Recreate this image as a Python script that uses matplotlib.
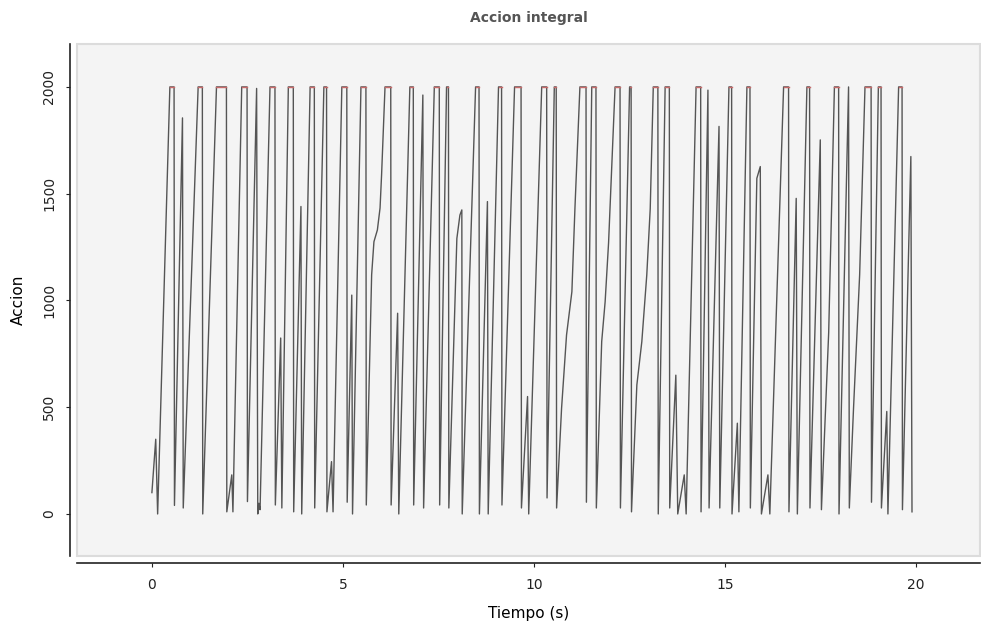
import numpy as np
import matplotlib
matplotlib.use("Agg")
import matplotlib.pyplot as plt

# Time (s) and integral action values
tiempo = [
    0.00, 0.10, 0.15, 0.47, 0.58, 0.59, 0.80, 0.82, 1.21, 1.32,
    1.33, 1.69, 1.95, 1.96, 2.09, 2.12, 2.35, 2.49, 2.50, 2.74,
    2.77, 2.80, 2.83, 3.09, 3.22, 3.23, 3.37, 3.40, 3.57, 3.70,
    3.71, 3.90, 3.92, 4.14, 4.25, 4.26, 4.50, 4.57, 4.58, 4.70,
    4.74, 4.97, 5.10, 5.11, 5.23, 5.25, 5.47, 5.60, 5.61, 5.75,
    5.81, 5.90, 5.97, 6.01, 6.10, 6.25, 6.26, 6.43, 6.46, 6.75,
    6.84, 6.85, 7.09, 7.11, 7.39, 7.52, 7.53, 7.71, 7.76, 7.77,
    7.98, 8.06, 8.11, 8.12, 8.47, 8.56, 8.57, 8.78, 8.80, 9.07,
    9.15, 9.16, 9.49, 9.66, 9.67, 9.83, 9.86, 10.20, 10.33, 10.34,
    10.53, 10.58, 10.59, 10.72, 10.85, 10.99, 11.07, 11.20, 11.36, 11.37,
    11.51, 11.62, 11.63, 11.77, 11.86, 11.95, 12.12, 12.25, 12.26, 12.50,
    12.54, 12.55, 12.69, 12.82, 12.95, 13.04, 13.12, 13.24, 13.25, 13.43,
    13.54, 13.55, 13.71, 13.76, 13.93, 13.98, 14.24, 14.36, 14.37, 14.55,
    14.58, 14.84, 14.86, 15.10, 15.17, 15.18, 15.32, 15.36, 15.57, 15.65,
    15.66, 15.83, 15.92, 15.95, 16.12, 16.17, 16.53, 16.66, 16.67, 16.86,
    16.89, 17.14, 17.21, 17.22, 17.49, 17.52, 17.71, 17.86, 17.97, 17.98,
    18.23, 18.25, 18.36, 18.52, 18.66, 18.82, 18.83, 19.01, 19.08, 19.09,
    19.23, 19.26, 19.54, 19.63, 19.64, 19.86, 19.89,
]
accion = [
    100, 350, 0, 2000, 2000, 40, 1855, 28, 2000, 2000,
    0, 2000, 2000, 10, 183, 10, 2000, 2000, 58, 1993,
    0, 50, 20, 2000, 2000, 42, 824, 28, 2000, 2000,
    10, 1440, 0, 2000, 2000, 28, 2000, 2000, 10, 245,
    10, 2000, 2000, 55, 1025, 0, 2000, 2000, 42, 1120,
    1275, 1330, 1433, 1588, 2000, 2000, 42, 940, 0, 2000,
    2000, 42, 1962, 28, 2000, 2000, 42, 2000, 2000, 28,
    1290, 1400, 1424, 0, 2000, 2000, 0, 1463, 0, 2000,
    2000, 42, 2000, 2000, 28, 550, 0, 2000, 2000, 75,
    2000, 2000, 28, 495, 838, 1041, 1432, 2000, 2000, 55,
    2000, 2000, 28, 807, 994, 1270, 2000, 2000, 28, 2000,
    2000, 10, 604, 807, 1120, 1430, 2000, 2000, 0, 2000,
    2000, 28, 650, 0, 183, 0, 2000, 2000, 10, 1985,
    28, 1815, 28, 2000, 2000, 0, 425, 10, 2000, 2000,
    28, 1572, 1627, 0, 183, 0, 2000, 2000, 10, 1478,
    0, 2000, 2000, 28, 1752, 20, 850, 2000, 2000, 0,
    2000, 28, 495, 1120, 2000, 2000, 55, 2000, 2000, 28,
    480, 0, 2000, 2000, 20, 1674, 10,
]
limite = 2000

x_ticks = [0, 5, 10, 15, 20]
y_ticks = [0, 500, 1000, 1500, 2000]

t = np.array(tiempo, dtype=float)
v = np.array(accion, dtype=float)
v_sat = np.where(v >= limite, v, np.nan)

fig = plt.figure(figsize=(9.81, 6.27), dpi=100)
ax = fig.add_axes([0.0785, 0.1132, 0.9205, 0.8166])
ax.set_facecolor("#f4f4f4")
ax.patch.set_edgecolor("#dcdcdc")
ax.patch.set_linewidth(1.5)

ax.plot(t, v, color="#555555", lw=1.0, zorder=3)
ax.plot(t, v_sat, color="#c96a6a", lw=1.0, zorder=4)

ax.set_xlim(-1.96, 21.67)
ax.set_ylim(-197, 2201)
ax.set_xticks(x_ticks)
ax.set_yticks(y_ticks)

for s in ["top", "right"]:
    ax.spines[s].set_visible(False)
ax.spines["left"].set_position(("outward", 5))
ax.spines["bottom"].set_position(("outward", 5))
ax.spines["left"].set_color("#222222")
ax.spines["bottom"].set_color("#222222")
ax.spines["left"].set_linewidth(1.2)
ax.spines["bottom"].set_linewidth(1.2)

ax.tick_params(axis="both", direction="out", length=3, width=0.8,
               colors="#222222", labelsize=10)
ax.tick_params(axis="x", pad=8)
ax.tick_params(axis="y", pad=7)
for lab in ax.get_yticklabels():
    lab.set_rotation(90)
    lab.set_va("center")

ax.set_title("Accion integral", fontsize=10, fontweight="bold",
             color="#555555", pad=16)
ax.set_xlabel("Tiempo (s)", fontsize=11, labelpad=10)
ax.set_ylabel("Accion", fontsize=11, labelpad=12)

fig.savefig("out.png", dpi=100)
